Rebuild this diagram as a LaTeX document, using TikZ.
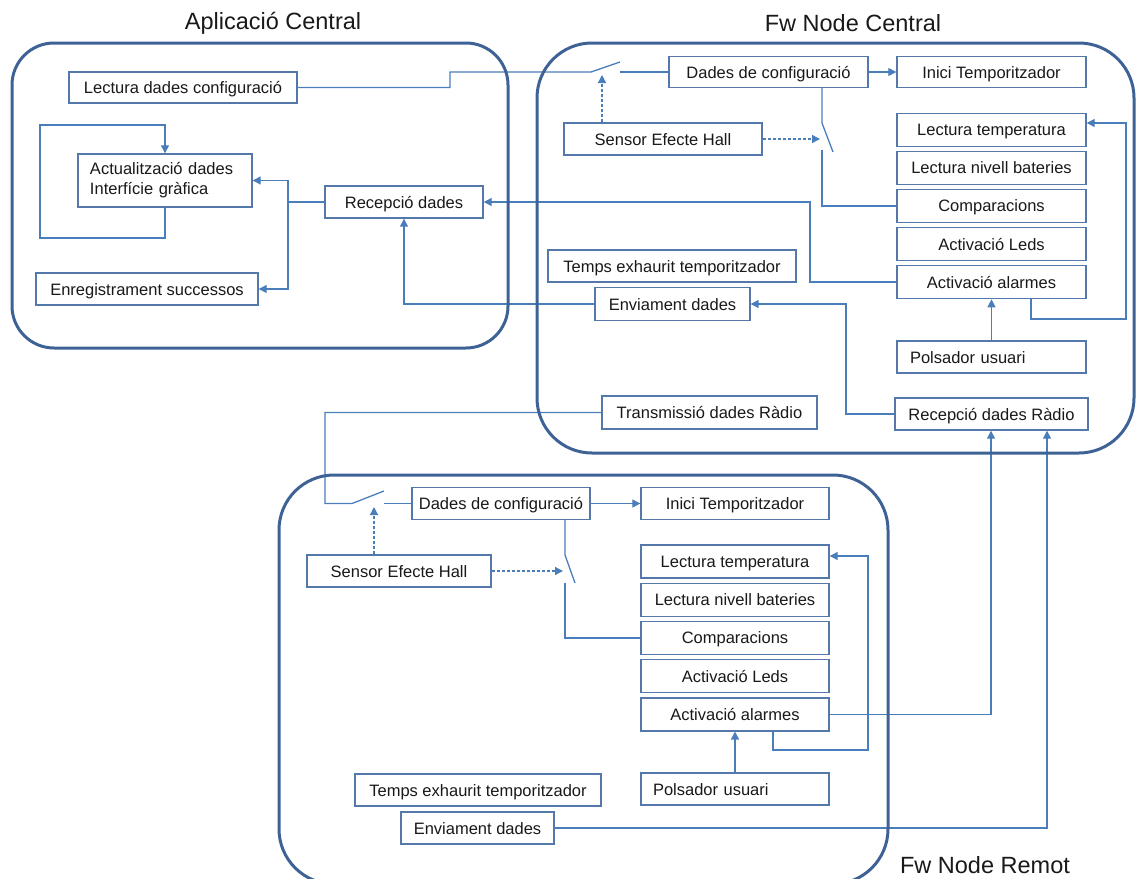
\documentclass[tikz,border=0pt]{standalone}
\usepackage{fontspec}
\setmainfont{Liberation Sans}
\usetikzlibrary{arrows.meta}
\definecolor{frame}{RGB}{62,98,149}
\definecolor{boxline}{RGB}{84,120,170}
\definecolor{wire}{RGB}{74,126,187}
\definecolor{ink}{RGB}{25,25,25}
\begin{document}
\begin{tikzpicture}[x=1bp,y=-1bp,
  font=\fontsize{16.5bp}{20bp}\selectfont,
  box/.style={draw=boxline, line width=1.4bp, fill=white, inner sep=0pt, text=ink,
    text height=12bp, text depth=0bp},
  twoline/.style={draw=boxline, line width=1.4bp, fill=white, inner sep=0pt, text=ink},
  sz/.style 2 args={minimum width=#1bp, minimum height=#2bp},
  wire/.style={draw=wire, line width=1.3bp},
  tip/.style={-{Triangle[width=8bp,length=8bp]}},
  sensing/.style={wire, dash pattern=on 3bp off 2bp},
  region/.style={draw=frame, line width=3bp},
  title/.style={font=\fontsize{23.5bp}{28bp}\selectfont, text=ink}]
\useasboundingbox (0,0) rectangle (1136,879);

% ---------- Aplicació Central ----------
\node[box, sz={228}{31}] (ldc) at (183,87.5) {Lectura dades configuració};
\node[twoline, text width=150bp, inner xsep=12bp, minimum height=53bp, align=left] (act) at (165,180.5)
  {Actualització dades\\Interfície gràfica};
\node[box, sz={158}{32}] (rd) at (404,202) {Recepció dades};
\node[box, sz={222}{32}] (enr) at (147,289) {Enregistrament successos};

% ---------- Fw Node Central ----------
\node[box, sz={199}{31}] (dc1) at (768.5,72) {Dades de configuració};
\node[box, sz={189}{31}] (it1) at (991.5,72) {Inici Temporitzador};
\node[box, sz={198}{32}] (sh1) at (663,139) {Sensor Efecte Hall};
\node[box, sz={189}{33}] (lt1) at (991.5,129.7) {Lectura temperatura};
\node[box, sz={189}{33}] (lnb1) at (991.5,167.8) {Lectura nivell bateries};
\node[box, sz={189}{33}] (cmp1) at (991.5,205.9) {Comparacions};
\node[box, sz={189}{33}] (led1) at (991.5,244) {Activació Leds};
\node[box, sz={189}{33}] (alm1) at (991.5,282.1) {Activació alarmes};
\node[box, text width=163bp, inner xsep=13bp, minimum height=32bp, align=left] (pol1) at (991.5,357) {Polsador usuari};
\node[box, sz={248}{32}] (tet1) at (672,266) {Temps exhaurit temporitzador};
\node[box, sz={155}{33}] (env1) at (672.5,304) {Enviament dades};
\node[box, sz={215}{33}] (tr1) at (709.5,412.5) {Transmissió dades Ràdio};
\node[box, sz={193}{32}] (rr1) at (991.5,414) {Recepció dades Ràdio};

% ---------- Fw Node Remot ----------
\node[box, sz={178}{32}] (dc2) at (501,503.5) {Dades de configuració};
\node[box, sz={188}{32}] (it2) at (735,503.5) {Inici Temporitzador};
\node[box, sz={184}{32}] (sh2) at (399,571) {Sensor Efecte Hall};
\node[box, sz={188}{33}] (lt2) at (735,561.5) {Lectura temperatura};
\node[box, sz={188}{33}] (lnb2) at (735,599.7) {Lectura nivell bateries};
\node[box, sz={188}{33}] (cmp2) at (735,637.9) {Comparacions};
\node[box, sz={188}{33}] (led2) at (735,676.1) {Activació Leds};
\node[box, sz={188}{33}] (alm2) at (735,714.3) {Activació alarmes};
\node[box, text width=164bp, inner xsep=12bp, minimum height=32bp, align=left] (pol2) at (735,789) {Polsador usuari};
\node[box, sz={246}{32}] (tet2) at (478,790) {Temps exhaurit temporitzador};
\node[box, sz={153}{32}] (env2) at (477.5,828) {Enviament dades};

% ---------- switch contacts and bends ----------
\coordinate (s1a) at (591,72);  \coordinate (s1b) at (620,62);  \coordinate (s1c) at (620,72);
\coordinate (s2a) at (822,123); \coordinate (s2b) at (833,152); \coordinate (s2c) at (822,150);
\coordinate (s3a) at (352,503.5); \coordinate (s3b) at (384,491); \coordinate (s3c) at (384,503.5);
\coordinate (s4a) at (565,555); \coordinate (s4b) at (575,583); \coordinate (s4c) at (565,583);
\coordinate (h1) at (602,75);   \coordinate (h2) at (820,139);
\coordinate (h3) at (374,507);  \coordinate (h4) at (563,571);
\coordinate (f1) at (1031,319); \coordinate (f2) at (1126,123);
\coordinate (f3) at (773,750);  \coordinate (f4) at (868,556);
\coordinate (c6) at (810,202);  \coordinate (c8) at (288,202);
\coordinate (l1) at (40,238);   \coordinate (l2) at (165,125);
\coordinate (c10) at (846,304); \coordinate (t1) at (325,503.5);
\coordinate (c16) at (991,714); \coordinate (c17) at (1047,828);

% ---------- connectors ----------
\draw[wire] (ldc.east) -- (450,87.5) -- (450,72) -- (s1a) -- (s1b);
\draw[wire] (s1c) -- (dc1.west);
\draw[sensing,tip] (h1 |- sh1.north) -- (h1);
\draw[wire,tip] (dc1.east) -- (it1.west);
\draw[wire] (dc1.south -| s2a) -- (s2a) -- (s2b);
\draw[wire] (s2c) |- (cmp1.west);
\draw[sensing,tip] (sh1.east) -- (h2);
\draw[wire,tip] (f1 |- alm1.south) -- (f1) -| (f2) -- (f2 -| lt1.east);
\draw[wire,tip] (pol1.north) -- (alm1.south);
\draw[wire,tip] (alm1.west) -| (c6) -- (rd.east);
\draw[wire,tip] (env1.west) -| (rd.south);
\draw[wire] (rd.west) -- (c8);
\draw[wire,tip] (c8) |- (act.east);
\draw[wire,tip] (c8) |- (enr.east);
\draw[wire,tip] (act.south) |- (l1) |- (l2) -- (act.north);
\draw[wire,tip] (rr1.west) -| (c10) -- (env1.east);

\draw[wire] (tr1.west) -| (t1) -- (s3a) -- (s3b);
\draw[wire] (s3c) -- (dc2.west);
\draw[sensing,tip] (h3 |- sh2.north) -- (h3);
\draw[wire,tip] (dc2.east) -- (it2.west);
\draw[wire] (dc2.south -| s4a) -- (s4a) -- (s4b);
\draw[wire] (s4c) |- (cmp2.west);
\draw[sensing,tip] (sh2.east) -- (h4);
\draw[wire,tip] (f3 |- alm2.south) -- (f3) -| (f4) -- (f4 -| lt2.east);
\draw[wire,tip] (pol2.north) -- (alm2.south);
\draw[wire,tip] (alm2.east) -| (rr1.south -| c16);
\draw[wire,tip] (env2.east) -| (rr1.south -| c17);

% ---------- block outlines ----------
\draw[region, rounded corners=42bp] (12,43) rectangle (508,348);
\draw[region, rounded corners=55bp] (537,43) rectangle (1134,453);
\draw[region, rounded corners=55bp] (279,475) rectangle (888,884);

% ---------- titles ----------
\node[title] (tA) at (273,23.5) {Aplicació Central};
\node[title] (tB) at (853,23.5) {Fw Node Central};
\node[title] (tC) at (985,865) {Fw Node Remot};
\end{tikzpicture}
\end{document}
